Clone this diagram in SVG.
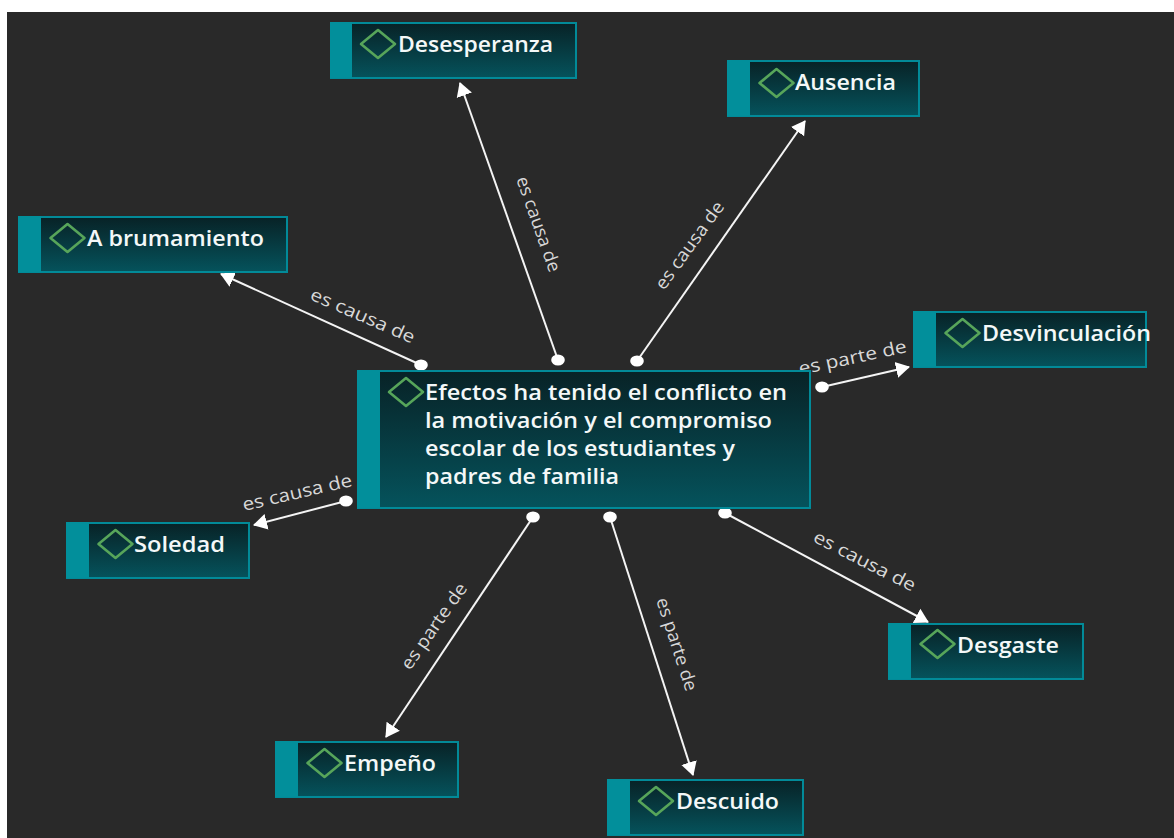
<svg xmlns="http://www.w3.org/2000/svg" width="1174" height="838" viewBox="0 0 1174 838">
<style>
.box{fill:url(#g);stroke:#028a98;stroke-width:2}
.bar{fill:#028f9b}
.dia{fill:none;stroke:#57a55a;stroke-width:2.6;stroke-linejoin:round}
.t{font-family:"Open Sans","Noto Sans",sans-serif;font-size:21px;font-weight:600;fill:#f4f8f8}
.l{font-family:"Open Sans","Noto Sans",sans-serif;font-size:18px;fill:#d8d8d8}
.c{stroke:#f4f4f4;stroke-width:2;fill:none;marker-end:url(#a)}
.d{fill:#fff}
</style>
<defs>
<linearGradient id="g" x1="0" y1="0" x2="0" y2="1"><stop offset="0" stop-color="#082226"/><stop offset="1" stop-color="#05535c"/></linearGradient>
<marker id="a" markerUnits="userSpaceOnUse" markerWidth="18" markerHeight="18" refX="13" refY="9" orient="auto"><path d="M0 1L14 9L0 17Z" fill="#fff"/></marker>
</defs>
<rect width="1174" height="838" fill="#fff"/>
<rect x="7" y="12" width="1167" height="826" fill="#292929"/>
<g id="connectors">
<path class="c" d="M421 365L221 274"/><ellipse class="d" cx="421" cy="365" rx="6.8" ry="5.6"/>
<path class="c" d="M558 360L460 83"/><ellipse class="d" cx="558" cy="360" rx="6.8" ry="5.6"/>
<path class="c" d="M637 361L805 121"/><ellipse class="d" cx="637" cy="361" rx="6.8" ry="5.6"/>
<path class="c" d="M822 387L909 367"/><ellipse class="d" cx="822" cy="387" rx="6.8" ry="5.6"/>
<path class="c" d="M346 501L254 525"/><ellipse class="d" cx="346" cy="501" rx="6.8" ry="5.6"/>
<path class="c" d="M533 517L386 737"/><ellipse class="d" cx="533" cy="517" rx="6.8" ry="5.6"/>
<path class="c" d="M610 517L693 775"/><ellipse class="d" cx="610" cy="517" rx="6.8" ry="5.6"/>
<path class="c" d="M725 513L928 622"/><ellipse class="d" cx="725" cy="513" rx="6.8" ry="5.6"/>
<text class="l" textLength="112" lengthAdjust="spacingAndGlyphs" transform="translate(309 299) rotate(23.5)">es causa de</text>
<text class="l" textLength="100" lengthAdjust="spacingAndGlyphs" transform="translate(516 179) rotate(70.5)">es causa de</text>
<text class="l" textLength="104" lengthAdjust="spacingAndGlyphs" transform="translate(664 291) rotate(-54)">es causa de</text>
<text class="l" textLength="110" lengthAdjust="spacingAndGlyphs" transform="translate(800 375) rotate(-12)">es parte de</text>
<text class="l" textLength="112" lengthAdjust="spacingAndGlyphs" transform="translate(244 511) rotate(-13)">es causa de</text>
<text class="l" textLength="101" lengthAdjust="spacingAndGlyphs" transform="translate(410 671) rotate(-55)">es parte de</text>
<text class="l" textLength="97" lengthAdjust="spacingAndGlyphs" transform="translate(656 600) rotate(72)">es parte de</text>
<text class="l" textLength="112" lengthAdjust="spacingAndGlyphs" transform="translate(812 541) rotate(27)">es causa de</text>
</g>
<g id="n-centro"><rect class="box" x="358" y="371" width="452" height="137"/><rect class="bar" x="357" y="370" width="23" height="138"/><path class="dia" d="M406 378L423 392L406 406L389 392Z"/>
<text class="t"><tspan x="425" y="400" textLength="362" lengthAdjust="spacingAndGlyphs">Efectos ha tenido el conflicto en</tspan><tspan x="425" y="428" textLength="347" lengthAdjust="spacingAndGlyphs">la motivación y el compromiso</tspan><tspan x="425" y="456" textLength="310" lengthAdjust="spacingAndGlyphs">escolar de los estudiantes y</tspan><tspan x="425" y="484" textLength="194" lengthAdjust="spacingAndGlyphs">padres de familia</tspan></text></g>
<g id="n-desesperanza"><rect class="box" x="331" y="23" width="245" height="55"/><rect class="bar" x="330" y="22" width="22" height="56"/><path class="dia" d="M378 30L395 44L378 58L361 44Z"/><text class="t" x="398" y="52" textLength="155" lengthAdjust="spacingAndGlyphs">Desesperanza</text></g>
<g id="n-ausencia"><rect class="box" x="728" y="61" width="191" height="55"/><rect class="bar" x="727" y="60" width="23" height="56"/><path class="dia" d="M776.500 69L793.500 83L776.500 97L759.500 83Z"/><text class="t" x="795" y="90" textLength="101" lengthAdjust="spacingAndGlyphs">Ausencia</text></g>
<g id="n-abrumamiento"><rect class="box" x="19" y="217" width="268" height="55"/><rect class="bar" x="18" y="216" width="23" height="56"/><path class="dia" d="M67.500 224L84.500 238L67.500 252L50.500 238Z"/><text class="t" x="87" y="246" textLength="177" lengthAdjust="spacingAndGlyphs">A brumamiento</text></g>
<g id="n-desvinculacion"><rect class="box" x="914" y="312" width="232" height="55"/><rect class="bar" x="913" y="311" width="23" height="56"/><path class="dia" d="M962.500 319L979.500 333L962.500 347L945.500 333Z"/><text class="t" x="982" y="341" textLength="169" lengthAdjust="spacingAndGlyphs">Desvinculación</text></g>
<g id="n-soledad"><rect class="box" x="67" y="523" width="182" height="55"/><rect class="bar" x="66" y="522" width="23" height="56"/><path class="dia" d="M115.500 530L132.500 544L115.500 558L98.500 544Z"/><text class="t" x="134" y="552" textLength="91" lengthAdjust="spacingAndGlyphs">Soledad</text></g>
<g id="n-desgaste"><rect class="box" x="889" y="624" width="194" height="55"/><rect class="bar" x="888" y="623" width="23" height="56"/><path class="dia" d="M937.500 630L954.500 644L937.500 658L920.500 644Z"/><text class="t" x="957" y="653" textLength="102" lengthAdjust="spacingAndGlyphs">Desgaste</text></g>
<g id="n-empeno"><rect class="box" x="276" y="742" width="182" height="55"/><rect class="bar" x="275" y="741" width="23" height="56"/><path class="dia" d="M324.500 749L341.500 763L324.500 777L307.500 763Z"/><text class="t" x="344" y="771" textLength="92" lengthAdjust="spacingAndGlyphs">Empeño</text></g>
<g id="n-descuido"><rect class="box" x="608" y="780" width="195" height="55"/><rect class="bar" x="607" y="779" width="23" height="56"/><path class="dia" d="M656 787L673 801L656 815L639 801Z"/><text class="t" x="676" y="809" textLength="103" lengthAdjust="spacingAndGlyphs">Descuido</text></g>
</svg>
